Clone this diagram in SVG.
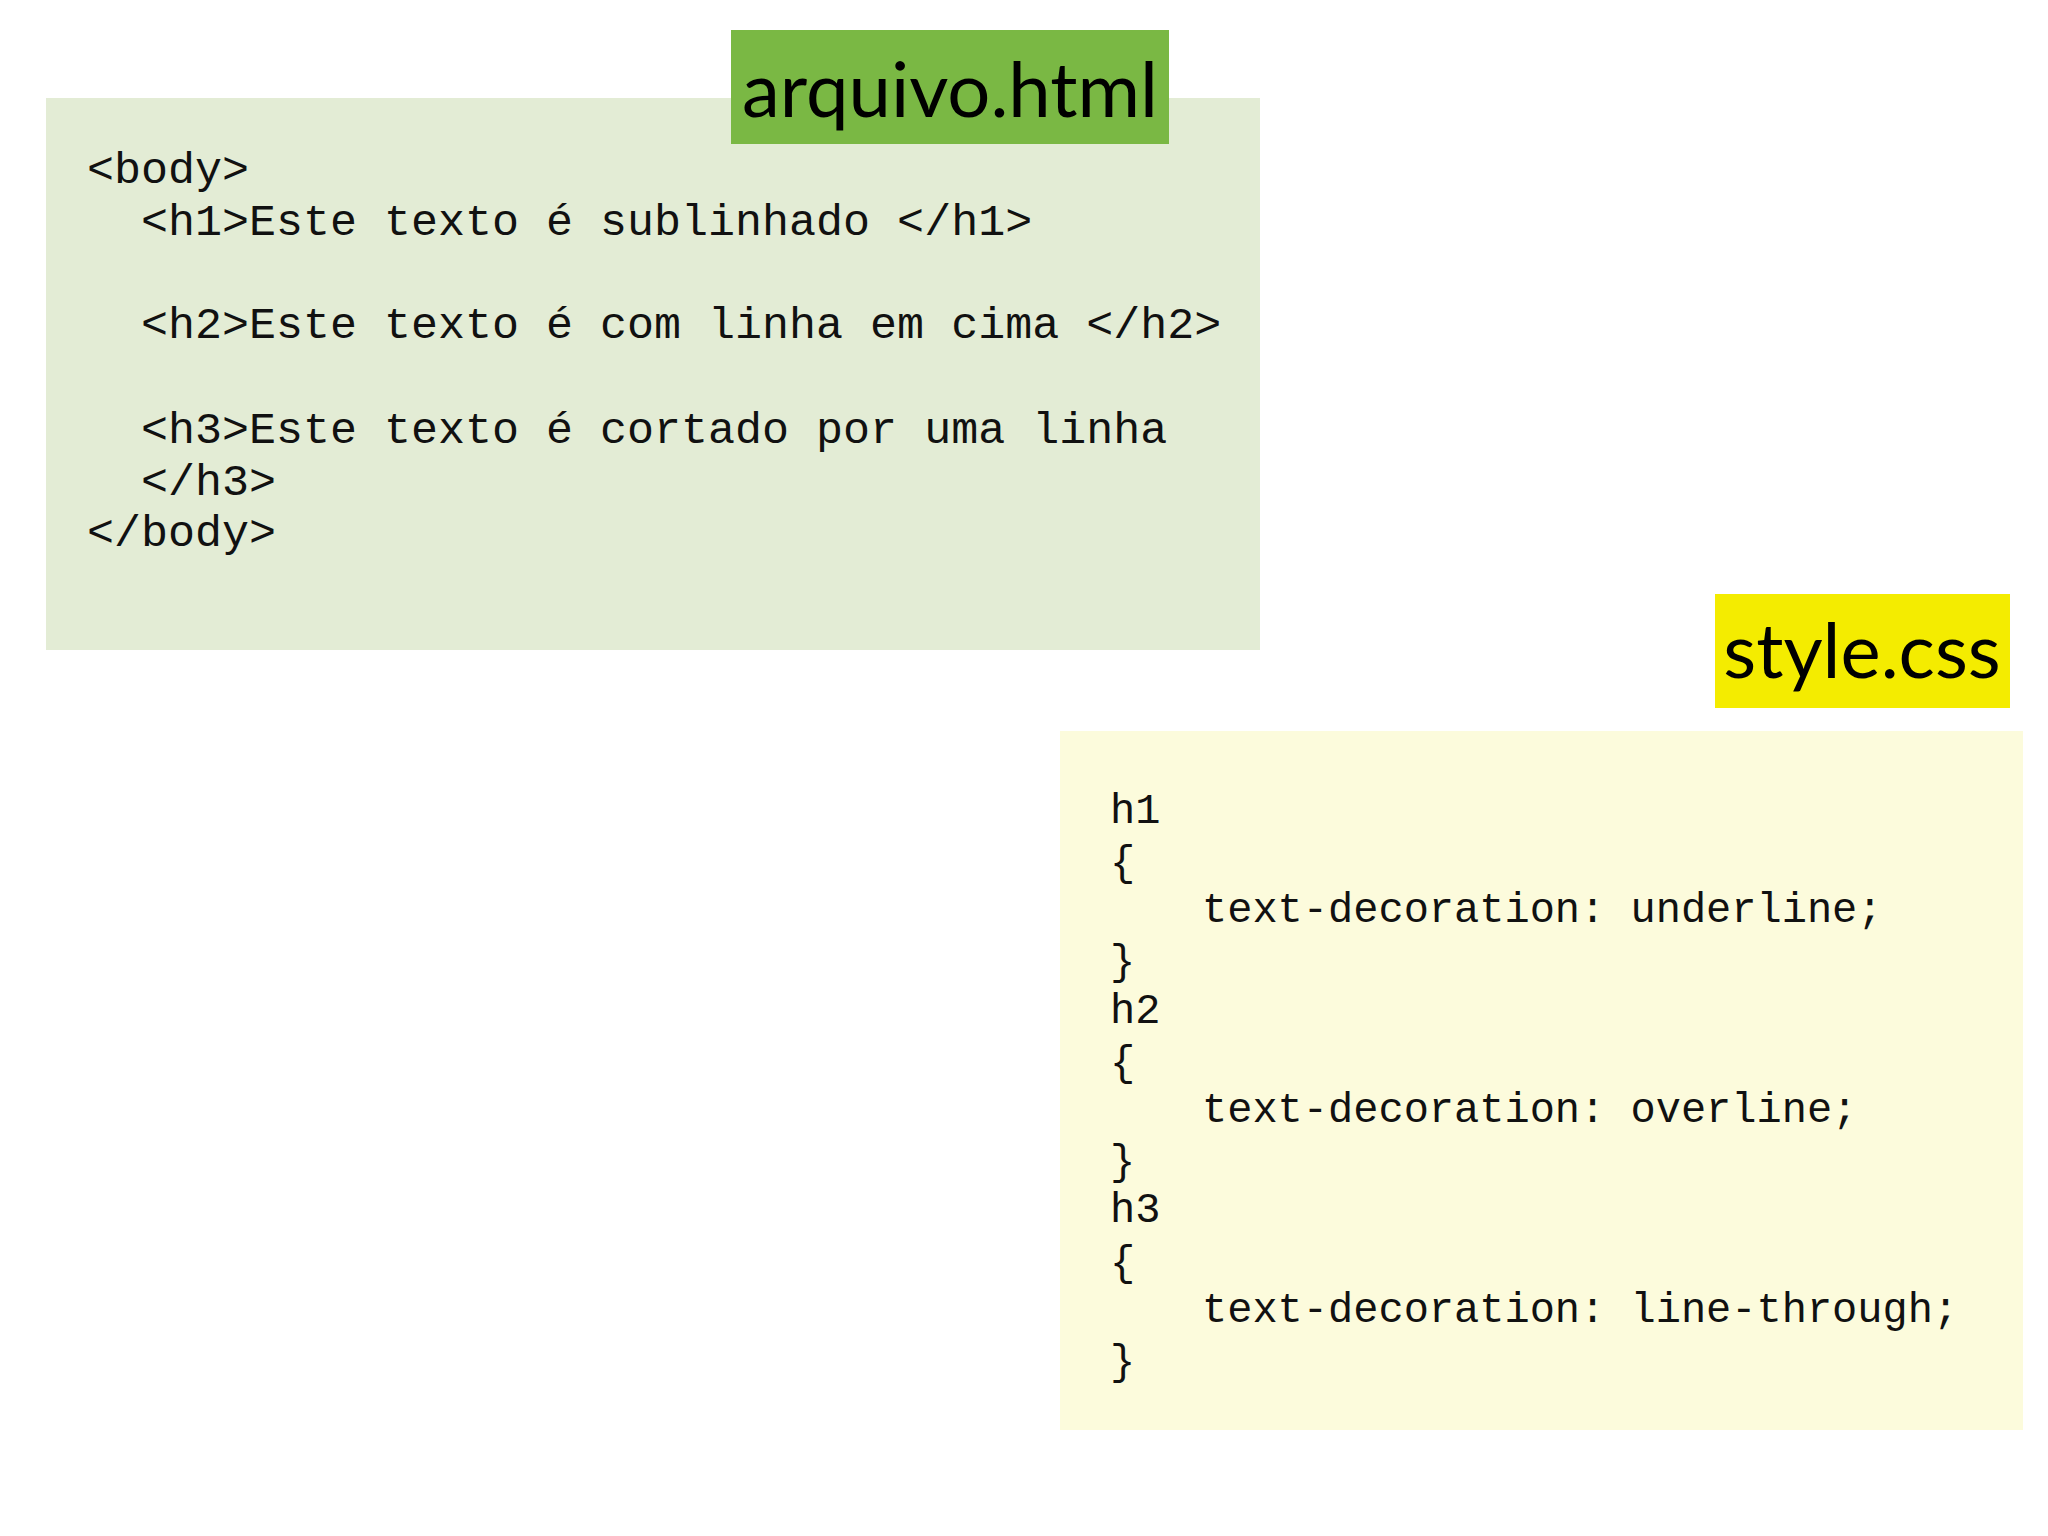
<svg xmlns="http://www.w3.org/2000/svg" width="2048" height="1536" viewBox="0 0 2048 1536">
<style>
.code{font-family:"Liberation Mono","Courier New",monospace;fill:#111;}
.h{font-size:45px}
.c{font-size:42px}
.lbl{font-family:"Lato","Open Sans",sans-serif;font-size:76px;fill:#000}
</style>
<rect width="2048" height="1536" fill="#fff"/>
<g id="html">
<rect x="46" y="98" width="1214" height="552" fill="#e3ecd5"/>
<rect x="731" y="30" width="438" height="114" fill="#7ab844"/>
<text class="lbl" x="950" y="117" text-anchor="middle">arquivo.html</text>
<g class="code h" xml:space="preserve">
<text x="87" y="183">&lt;body&gt;</text>
<text x="141" y="235">&lt;h1&gt;Este texto é sublinhado &lt;/h1&gt;</text>
<text x="141" y="338">&lt;h2&gt;Este texto é com linha em cima &lt;/h2&gt;</text>
<text x="141" y="443">&lt;h3&gt;Este texto é cortado por uma linha</text>
<text x="141" y="495">&lt;/h3&gt;</text>
<text x="87" y="546">&lt;/body&gt;</text>
</g>
</g>
<g id="css">
<rect x="1060" y="731" width="963" height="699" fill="#fcfbdc"/>
<rect x="1715" y="594" width="295" height="114" fill="#f4ec00"/>
<text class="lbl" x="1862" y="678" text-anchor="middle">style.css</text>
<g class="code c">
<text x="1110" y="823">h1</text>
<text x="1110" y="875">{</text>
<text x="1202" y="922">text-decoration: underline;</text>
<text x="1110" y="974">}</text>
<text x="1110" y="1023">h2</text>
<text x="1110" y="1075">{</text>
<text x="1202" y="1122">text-decoration: overline;</text>
<text x="1110" y="1174">}</text>
<text x="1110" y="1222">h3</text>
<text x="1110" y="1275">{</text>
<text x="1202" y="1322">text-decoration: line-through;</text>
<text x="1110" y="1374">}</text>
</g>
</g>
<g id="connectors"/>
</svg>
